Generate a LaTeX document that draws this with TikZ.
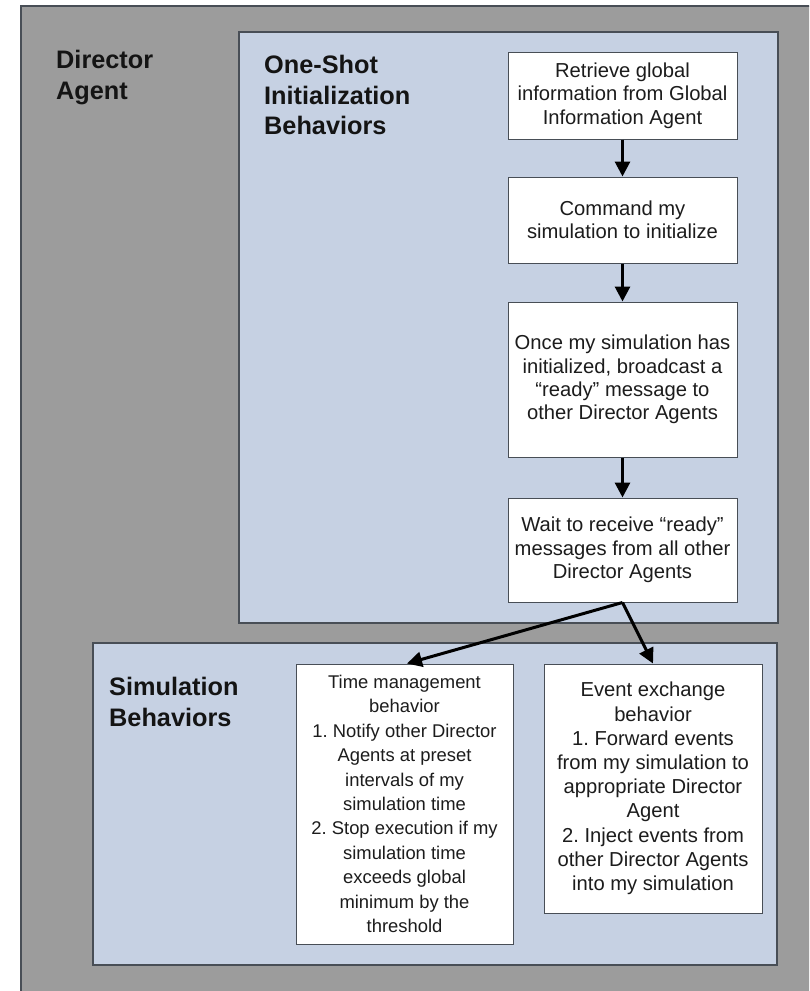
\documentclass[tikz,border=0pt]{standalone}
\usepackage{fontspec}
\setmainfont{Liberation Sans}
\usetikzlibrary{arrows.meta}
\definecolor{agentgray}{RGB}{156,156,156}
\definecolor{panelblue}{RGB}{198,209,227}
\definecolor{edgegray}{RGB}{72,78,86}
\definecolor{inkgray}{RGB}{28,28,28}
\frenchspacing

\begin{document}
\begin{tikzpicture}[x=1pt,y=-1pt,
  panel/.style={fill=panelblue,draw=edgegray,line width=1.2pt},
  stepbox/.style={draw=edgegray,fill=white,line width=1pt,inner sep=0pt,
    align=center,text=inkgray,minimum width=229pt,
    font=\fontsize{20.2}{23.3}\selectfont},
  heading/.style={anchor=north west,inner sep=0pt,align=left,text=black!92,
    font=\bfseries\fontsize{25.3}{30.5}\selectfont},
  flow/.style={line width=3pt,black,-{Triangle[width=15pt,length=15pt]}}]
\path[use as bounding box] (0,0) rectangle (809,991);
\clip (0,0) rectangle (809,991);
\fill[white] (0,0) rectangle (809,991);

% Director Agent frame (runs off the right and bottom edges)
\draw[fill=agentgray,draw=edgegray,line width=1.2pt] (21,6) rectangle (840,1020);
\node[heading] (agentlabel) at (56,50) {Director\\Agent};

% One-shot initialization panel
\draw[panel] (239,32) rectangle (778,623);
\node[heading] (initlabel) at (264,55) {One-Shot\\Initialization\\Behaviors};

% Simulation behaviors panel
\draw[panel] (93,643) rectangle (777,965);
\node[heading] (simlabel) at (109,677) {Simulation\\Behaviors};

% Initialization steps
\node[stepbox,minimum height=87pt] (retrieve) at (622.5,95.5)
  {Retrieve global\\information from Global\\Information Agent};
\node[stepbox,minimum height=86pt] (command) at (622.5,220)
  {Command my\\simulation to initialize};
\node[stepbox,minimum height=155pt] (ready) at (622.5,379.5)
  {Once my simulation has\\initialized, broadcast a\\“ready” message to\\other Director Agents};
\node[stepbox,minimum height=104pt] (wait) at (622.5,550)
  {Wait to receive “ready”\\messages from all other\\Director Agents};

% Simulation behaviors
\node[stepbox,minimum width=217pt,minimum height=280pt,
  font=\fontsize{18.4}{24.4}\selectfont] (timemgmt) at (404.5,804)
  {Time management\\behavior\\1. Notify other Director\\Agents at preset\\intervals of my\\simulation time\\2. Stop execution if my\\simulation time\\exceeds global\\minimum by the\\threshold};
\node[stepbox,minimum width=218pt,minimum height=249pt,
  font=\fontsize{20.2}{24.2}\selectfont] (events) at (653,788.5)
  {Event exchange\\behavior\\1. Forward events\\from my simulation to\\appropriate Director\\Agent\\2. Inject events from\\other Director Agents\\into my simulation};

% Flow
\draw[flow] (retrieve.south) -- (command.north);
\draw[flow] (command.south) -- (ready.north);
\draw[flow] (ready.south) -- (wait.north);
\draw[flow] (wait.south) -- ([xshift=2.5pt]timemgmt.north);
\draw[flow] (wait.south) -- (events.north);
\end{tikzpicture}
\end{document}
